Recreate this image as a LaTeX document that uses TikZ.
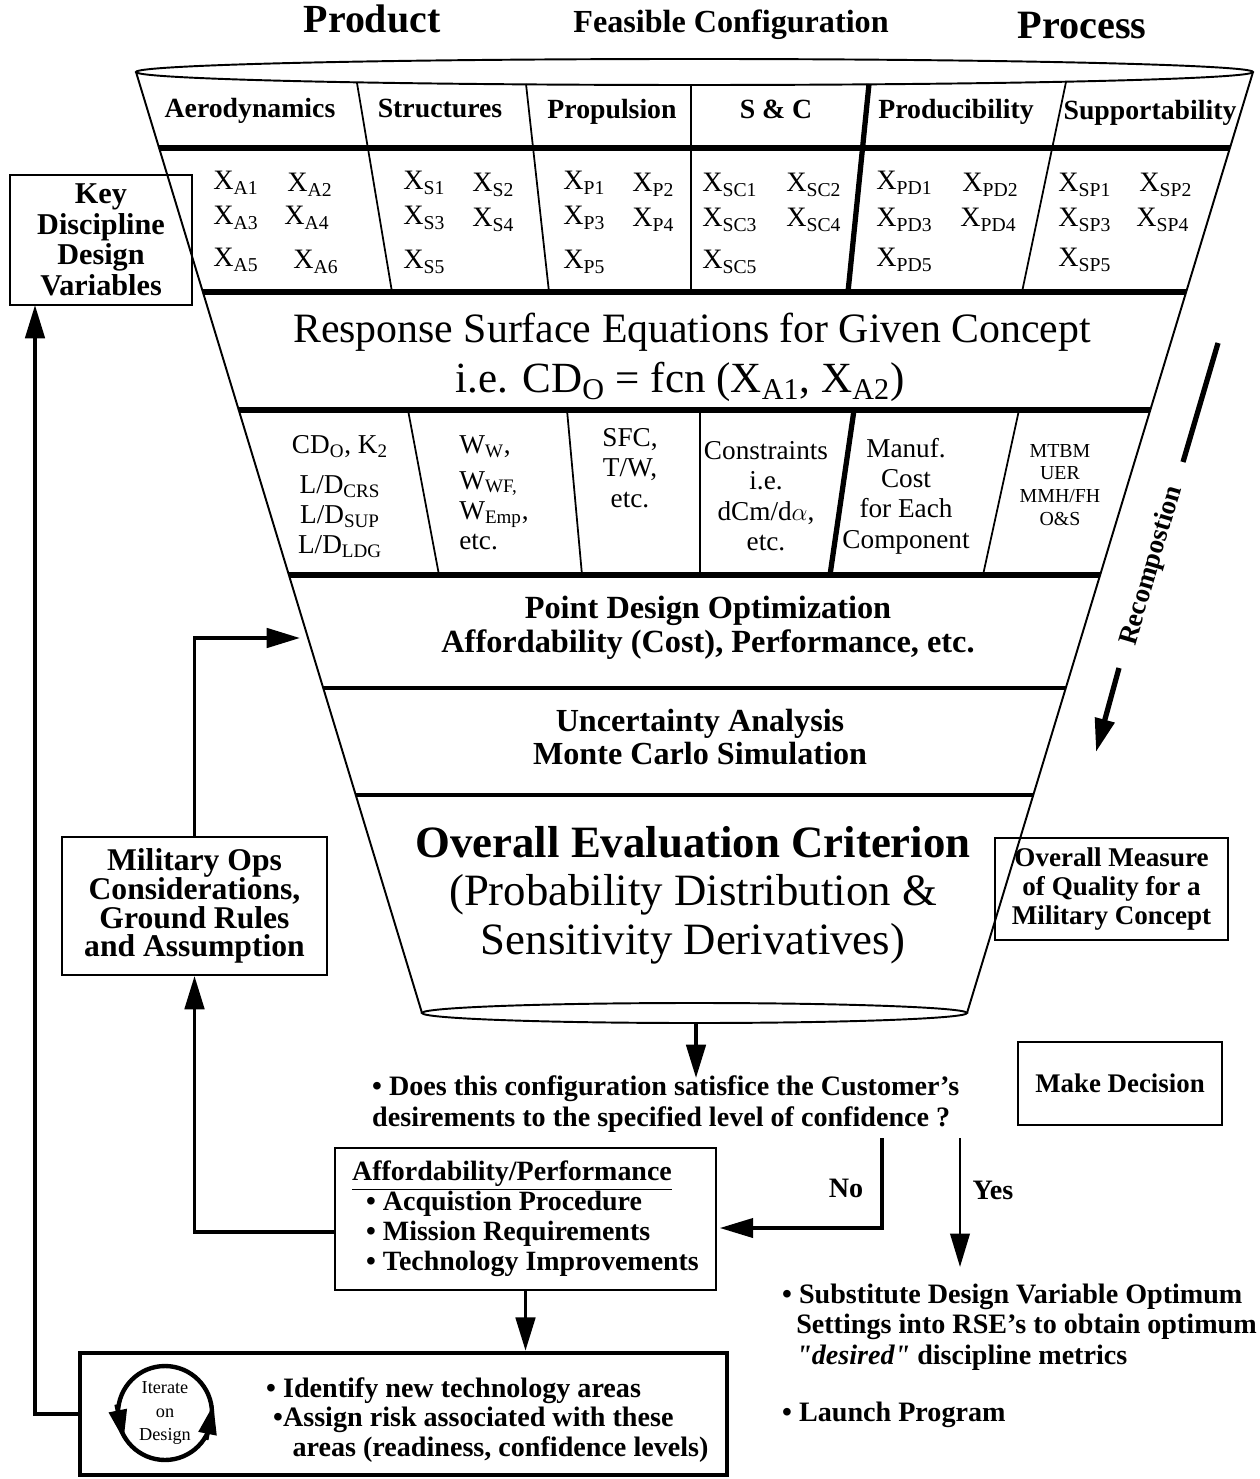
\documentclass[tikz,border=0pt]{standalone}
\usepackage{fontspec}
\setmainfont{Liberation Serif}
\newfontfamily\plainquote{Liberation Serif}
\usepackage{tikz}
\usetikzlibrary{calc,arrows.meta}

\newcommand{\fsz}[2]{\fontsize{#1}{#2}\selectfont}
\newcommand{\dq}{{\plainquote\itshape\bfseries"}}

\begin{document}
\begin{tikzpicture}[x=0.02cm, y=-0.02cm,
    wall/.style={line width=1.1pt},
    band/.style={line width=3.3pt},
    rule/.style={line width=2pt},
    divider/.style={line width=1pt},
    heavydiv/.style={line width=3pt},
    flow/.style={line width=2.2pt, -{Triangle[length=19pt,width=11pt]}},
    turn/.style={line width=2.5pt, -{Triangle[length=17pt,width=10pt]}},
    box/.style={draw, line width=1pt, align=center, inner sep=2pt},
    head/.style={anchor=base, font=\fsz{15.8}{18}\bfseries},
    xvar/.style={anchor=base west, inner sep=0pt, font=\fsz{16}{18}},
    metric/.style={align=center, font=\fsz{15.5}{17.3}},
    bold16/.style={font=\fsz{16}{17.5}\bfseries}]
      \useasboundingbox (0,0) rectangle (1259,1479);

      % titles
      \node (prod) at (372,33) [anchor=base, font=\fsz{22.7}{24}\bfseries] {Product};
      \node (feas) at (731,33) [anchor=base, font=\fsz{18.3}{20}\bfseries] {Feasible Configuration};
      \node (proc) at (1082,39) [anchor=base, font=\fsz{22.9}{24}\bfseries] {Process};

      % funnel
      \coordinate (TL) at (136,72);
      \coordinate (TR) at (1253,72);
      \coordinate (BL) at (422,1013);
      \coordinate (BR) at (967,1013);
      \draw[wall] (TL) -- (BL) (TR) -- (BR);
      \draw[wall] (694.5,72) ellipse [x radius=558.5, y radius=13];
      \draw[wall] (694.5,1013) ellipse [x radius=272.5, y radius=10];

      \draw[band] (159,148) -- (1230,148);
      \draw[band] (203,292) -- (1186,292);
      \draw[band] (239,410) -- (1150,410);
      \draw[band] (289,575) -- (1100,575);
      \draw[rule] (323,688) -- (1066,688);
      \draw[rule] (356,795) -- (1033,795);

      % discipline columns
      \draw[divider] (357,83) -- (392,292) (526,84) -- (549,292) (691,85) -- (691,292) (1066,82) -- (1022,292);
      \draw[heavydiv] (869,84) -- (848,292);
      \draw[divider] (408,410) -- (439,575) (567,410) -- (582,575) (700,410) -- (700,575) (1019,410) -- (983,575);
      \draw[heavydiv] (854,410) -- (830,575);

      \node (aero) at (250,118) [head] {Aerodynamics};
      \node (struc) at (440,118) [head] {Structures};
      \node (prop) at (612,119) [head] {Propulsion};
      \node (snc) at (776,119) [head] {S \& C};
      \node (prodb) at (956,119) [head] {Producibility};
      \node (supp) at (1150,120) [head] {Supportability};

      % design variables
      \node (xa1) at (213,190) [xvar] {X\textsubscript{A1}};
      \node (xa2) at (287,192) [xvar] {X\textsubscript{A2}};
      \node (xa3) at (213,225) [xvar] {X\textsubscript{A3}};
      \node (xa4) at (284,225) [xvar] {X\textsubscript{A4}};
      \node (xa5) at (213,267) [xvar] {X\textsubscript{A5}};
      \node (xa6) at (293,269) [xvar] {X\textsubscript{A6}};
      \node (xs1) at (403,190) [xvar] {X\textsubscript{S1}};
      \node (xs2) at (472,192) [xvar] {X\textsubscript{S2}};
      \node (xs3) at (403,225) [xvar] {X\textsubscript{S3}};
      \node (xs4) at (472,227) [xvar] {X\textsubscript{S4}};
      \node (xs5) at (403,269) [xvar] {X\textsubscript{S5}};
      \node (xp1) at (563,190) [xvar] {X\textsubscript{P1}};
      \node (xp2) at (632,192) [xvar] {X\textsubscript{P2}};
      \node (xp3) at (563,225) [xvar] {X\textsubscript{P3}};
      \node (xp4) at (632,227) [xvar] {X\textsubscript{P4}};
      \node (xp5) at (563,269) [xvar] {X\textsubscript{P5}};
      \node (xsc1) at (702,192) [xvar] {X\textsubscript{SC1}};
      \node (xsc2) at (786,192) [xvar] {X\textsubscript{SC2}};
      \node (xsc3) at (702,227) [xvar] {X\textsubscript{SC3}};
      \node (xsc4) at (786,227) [xvar] {X\textsubscript{SC4}};
      \node (xsc5) at (702,269) [xvar] {X\textsubscript{SC5}};
      \node (xpd1) at (876,190) [xvar] {X\textsubscript{PD1}};
      \node (xpd2) at (962,192) [xvar] {X\textsubscript{PD2}};
      \node (xpd3) at (876,227) [xvar] {X\textsubscript{PD3}};
      \node (xpd4) at (960,227) [xvar] {X\textsubscript{PD4}};
      \node (xpd5) at (876,267) [xvar] {X\textsubscript{PD5}};
      \node (xsp1) at (1058,192) [xvar] {X\textsubscript{SP1}};
      \node (xsp2) at (1139,192) [xvar] {X\textsubscript{SP2}};
      \node (xsp3) at (1058,227) [xvar] {X\textsubscript{SP3}};
      \node (xsp4) at (1136,227) [xvar] {X\textsubscript{SP4}};
      \node (xsp5) at (1058,267) [xvar] {X\textsubscript{SP5}};

      % response surface
      \node (rse) at (692,332) [font=\fsz{23.8}{26}] {Response Surface Equations for Given Concept};
      \node (rsex) at (680,382) [font=\fsz{24.5}{26}] {i.e. CD\textsubscript{O} = fcn (X\textsubscript{A1}, X\textsubscript{A2})};

      % discipline metrics
      \node (mA) at (340,497) [metric] {CD\textsubscript{O}, K\textsubscript{2}\\[5pt] L/D\textsubscript{CRS}\\ L/D\textsubscript{SUP}\\ L/D\textsubscript{LDG}};
      \node (mS) at (494,493) [metric, align=left] {W\textsubscript{W},\\[3pt] W\textsubscript{WF,}\\ W\textsubscript{Emp},\\ etc.};
      \node (mP) at (630,468) [metric] {SFC,\\ T/W,\\ etc.};
      \node (mSC) at (766,496) [metric] {Constraints\\ i.e.\\ dCm/d$\alpha$,\\ etc.};
      \node (mPD) at (906,496) [metric] {Manuf.\\ Cost\\ for Each\\ Component};
      \node (mSP) at (1060,485) [metric, font=\fsz{11.3}{13}] {MTBM\\ UER\\ MMH/FH\\ O\&S};

      \node (pdo) at (708,628) [align=center, font=\fsz{18.4}{19.3}\bfseries] {Point Design Optimization\\ Affordability (Cost), Performance, etc.};
      \node (unc) at (700,737) [align=center, font=\fsz{18.3}{18.8}\bfseries] {Uncertainty Analysis\\ Monte Carlo Simulation};
      \node (oec) at (693,895) [align=center, font=\fsz{25.5}{27.5}] {\textbf{Overall Evaluation Criterion}\\ (Probability Distribution \&\\ Sensitivity Derivatives)};

      % recomposition
      \coordinate (rcA) at (1218,343);
      \coordinate (rcB) at (1183,462);
      \draw[line width=3pt] (rcA) -- (rcB);
      \node (recomp) at (1152,566) [rotate=73.6, font=\fsz{15.5}{17}\bfseries] {Recompostion};
      \coordinate (rcC) at (1119,668);
      \coordinate (rcD) at (1096,752);
      \draw[flow, line width=3pt] (rcC) -- (rcD);

      % side boxes
      \node (key) at (101,240) [box, minimum width=3.64cm, minimum height=2.6cm, font=\fsz{17.2}{17.4}\bfseries] {Key\\ Discipline\\ Design\\ Variables};
      \node (mil) at (194.5,906) [box, minimum width=5.3cm, minimum height=2.76cm, font=\fsz{18}{16.4}\bfseries] {Military Ops\\ Considerations,\\ Ground Rules\\ and Assumption};
      \node (oqm) at (1111.5,889) [box, minimum width=4.66cm, minimum height=2.04cm, font=\fsz{15.4}{16.4}\bfseries] {Overall Measure\\ of Quality for a\\ Military Concept};
      \node (dec) at (1120,1083.5) [box, minimum width=4.08cm, minimum height=1.66cm, font=\fsz{15.3}{17}\bfseries] {Make Decision};

      % decision
      \node (q) at (366,1104) [anchor=west, align=left, font=\fsz{16}{17.6}\bfseries] {• Does this configuration satisfice the Customer's\\ desirements to the specified level of confidence ?};
      \node (aff) at (525.5,1219) [box, align=left, minimum width=7.62cm, minimum height=2.84cm, font=\fsz{15.9}{17}\bfseries] {\underline{Affordability/Performance}\\ \hspace*{8pt}• Acquistion Procedure\\ \hspace*{8pt}• Mission Requirements\\ \hspace*{8pt}• Technology Improvements};
      \node (no) at (846,1188) [bold16] {No};
      \node (yes) at (993,1190) [bold16] {Yes};
      \node (subst) at (776,1327) [anchor=west, align=left, font=\fsz{16}{17.3}\bfseries] {• Substitute Design Variable Optimum\\ \hspace*{8pt}Settings into RSE's to obtain optimum\\ \hspace*{8pt}\textit{\dq desired\dq} discipline metrics};
      \node (launch) at (776,1415) [anchor=west, bold16] {• Launch Program};

      % iterate on design
      \node (bot) at (403.5,1414) [draw, line width=2.5pt, minimum width=12.94cm, minimum height=2.44cm] {};
      \node (iter) at (165,1413) [circle, draw, line width=2.5pt, minimum size=1.88cm, inner sep=0pt, align=center, font=\fsz{10.4}{13.2}] {Iterate\\ on\\ Design};
      \draw[turn] (iter.170) -- (iter.213);
      \draw[turn] (iter.-33) -- (iter.10);
      \node (risk) at (260,1420) [anchor=west, align=left, font=\fsz{16}{16.7}\bfseries] {• Identify new technology areas\\ \hspace*{4pt}•Assign risk associated with these\\ \hspace*{15pt}areas (readiness, confidence levels)};

      % flow arrows
      \coordinate (keyin) at (35,305);
      \coordinate (ptin) at (300,638);
      \coordinate (fbot) at (696,1024);
      \coordinate (qtop) at (696,1078);
      \coordinate (nostart) at (882,1138);
      \coordinate (yesstart) at (960,1138);
      \coordinate (yesend) at (960,1267);
      \draw[flow] (bot.west) -| (keyin);
      \draw[flow] (mil.north) |- (ptin);
      \draw[flow] ($(aff.west)+(0,13)$) -| (mil.south);
      \draw[flow] (fbot) -- (qtop);
      \draw[flow, line width=1.8pt] (nostart) |- ($(aff.east)+(3,9)$);
      \draw[flow, line width=1.6pt] (yesstart) -- (yesend);
      \draw[flow] (aff.south) -- (aff.south |- bot.north);
\end{tikzpicture}
\end{document}
